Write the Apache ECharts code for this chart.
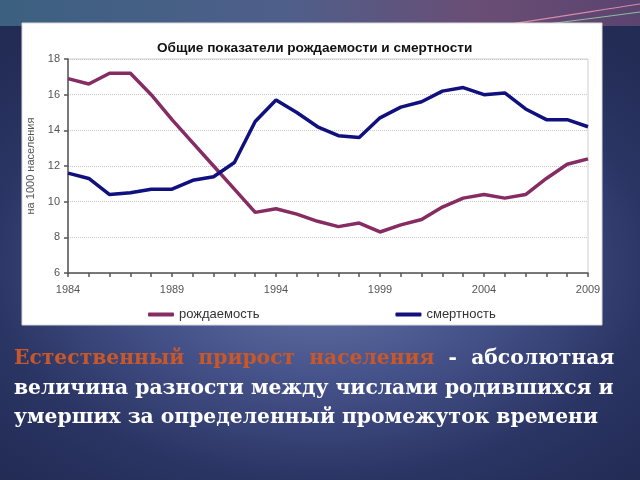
<!DOCTYPE html>
<html><head><meta charset="utf-8">
<script src="https://cdn.jsdelivr.net/npm/echarts@6/dist/echarts.min.js"></script>
<style>
html,body{margin:0;padding:0;width:640px;height:480px;overflow:hidden;}
body{background:
 radial-gradient(ellipse 70% 60% at 50% 55%, #6a77a9 0%, #46538b 40%, #2b3564 75%, #232c55 100%);}
#c{width:640px;height:480px;}
</style></head>
<body><div id="c"></div>
<script>
const years = ['1984','1985','1986','1987','1988','1989','1990','1991','1992','1993','1994','1995','1996','1997','1998','1999','2000','2001','2002','2003','2004','2005','2006','2007','2008','2009'];
const birthRate = [16.9,16.6,17.2,17.2,16.0,14.6,13.3,12.0,10.7,9.4,9.6,9.3,8.9,8.6,8.8,8.3,8.7,9.0,9.7,10.2,10.4,10.2,10.4,11.3,12.1,12.4];
const deathRate = [11.6,11.3,10.4,10.5,10.7,10.7,11.2,11.4,12.2,14.5,15.7,15.0,14.2,13.7,13.6,14.7,15.3,15.6,16.2,16.4,16.0,16.1,15.2,14.6,14.6,14.2];
const seriesNames = ['рождаемость','смертность'];
const titleText = 'Общие показатели рождаемости и смертности';
const yAxisName = 'на 1000 населения';
const captionRed = 'Естественный  прирост  населения';
const captionLines = ['  -  абсолютная','величина разности между числами родившихся и','умерших за определенный промежуток времени'];

const chart = echarts.init(document.getElementById('c'), null, {renderer:'canvas'});
const serif = '"DejaVu Serif", serif';
const sans = '"Liberation Sans", Arial, sans-serif';
chart.setOption({
  backgroundColor: 'transparent',
  animation: false,
  graphic: [
    {type:'rect', shape:{x:0,y:0,width:640,height:26}, silent:true, z:-10,
     style:{fill:new echarts.graphic.LinearGradient(0,0,1,0,[{offset:0,color:'#3c6080'},{offset:0.45,color:'#4f5f8a'},{offset:0.75,color:'#6a4d74'},{offset:1,color:'#5a4470'}])}},
    {type:'bezierCurve', shape:{x1:470,y1:30,x2:640,y2:4,cpx1:540,cpy1:20,cpx2:600,cpy2:10}, silent:true, z:-9, style:{stroke:'#d88aa8',lineWidth:1.2,fill:null}},
    {type:'bezierCurve', shape:{x1:480,y1:32,x2:640,y2:12,cpx1:550,cpy1:24,cpx2:610,cpy2:16}, silent:true, z:-9, style:{stroke:'#8fc0a0',lineWidth:1,fill:null}},
    {type:'rect', shape:{x:22,y:23,width:580,height:302}, silent:true, z:-5,
     style:{fill:'#ffffff', stroke:'#d8d8d8', lineWidth:1}},
    {type:'text', left:14, top:344, silent:true,
     style:{
       rich:{
         r:{fill:'#c8582a', font:'bold 20.3px '+serif},
         w:{fill:'#ffffff', font:'bold 20.3px '+serif}
       },
       text:'{r|'+captionRed+'}{w|'+captionLines[0]+'}\n{w|'+captionLines[1]+'}\n{w|'+captionLines[2]+'}',
       lineHeight:29.5
     }}
  ],
  title: {
    text: titleText, left: 152, top: 36,
    textStyle: {fontFamily:sans, fontSize:13.6, fontWeight:'bold', color:'#111'}
  },
  grid: {left:68, right:52, top:59, bottom:207, show:true, borderColor:'#d0d0d0', borderWidth:1},
  legend: {
    left: 143, top: 303, itemGap: 136, itemWidth: 26, itemHeight: 4, icon: 'roundRect',
    textStyle: {fontFamily:sans, fontSize:13, color:'#333'},
    data: seriesNames
  },
  xAxis: {
    type:'category', data: years, boundaryGap:false,
    axisLine:{lineStyle:{color:'#555', width:1.5}},
    axisTick:{show:true, interval:0, length:4, lineStyle:{color:'#555', width:1.5}},
    axisLabel:{interval:4, color:'#555', fontSize:11, margin:11, fontFamily:sans},
    splitLine:{show:false}
  },
  yAxis: {
    type:'value', min:6, max:18, interval:2,
    name: yAxisName, nameLocation:'middle', nameRotate:90, nameGap:29,
    nameTextStyle:{color:'#555', fontSize:11, fontFamily:sans},
    axisLine:{show:true, lineStyle:{color:'#555', width:1.5}},
    axisTick:{show:true, length:4, lineStyle:{color:'#555', width:1.5}},
    axisLabel:{color:'#555', fontSize:11, margin:8, fontFamily:sans},
    splitLine:{show:true, lineStyle:{color:'#c8c8c8', type:'dotted', width:1}}
  },
  series: [
    {name:seriesNames[0], type:'line', data:birthRate, symbol:'none', color:'#862c62',
     lineStyle:{width:3.5, color:'#862c62'}},
    {name:seriesNames[1], type:'line', data:deathRate, symbol:'none', color:'#10107e',
     lineStyle:{width:3.5, color:'#10107e'}}
  ]
});
</script>
</body></html>
